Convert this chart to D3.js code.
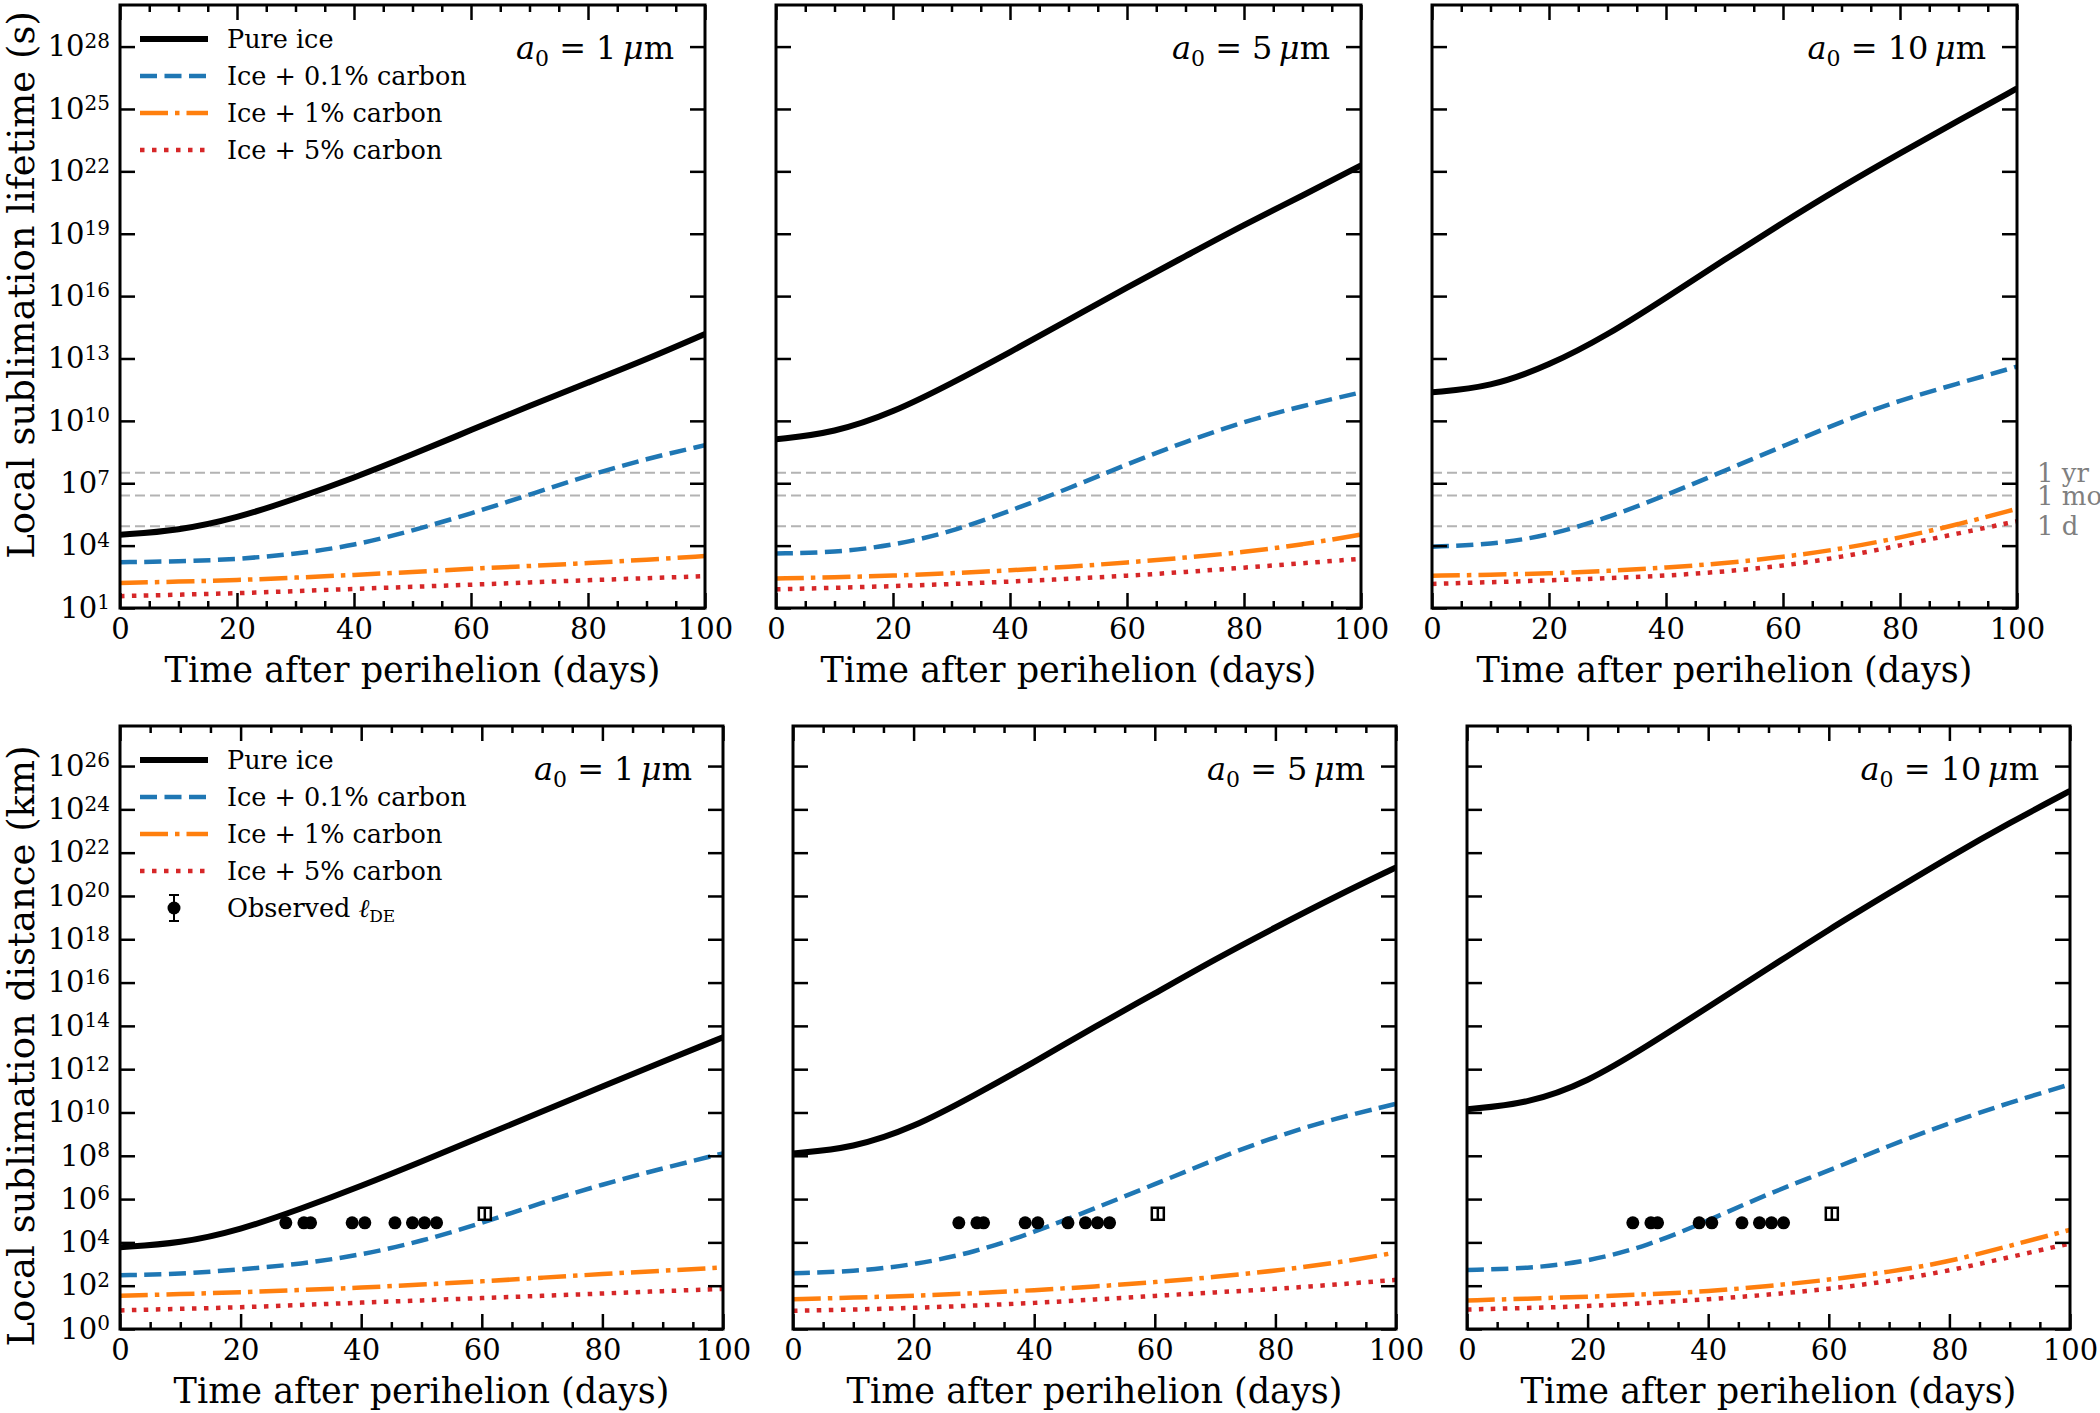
<!DOCTYPE html>
<html>
<head>
<meta charset="utf-8">
<script src="https://cdn.jsdelivr.net/npm/d3@7"></script>
<style>
  body { margin: 0; background: #fff; }
  svg text { font-family: "DejaVu Serif", serif; fill: #000; }
</style>
</head>
<body>
<svg id="fig" width="2100" height="1413"></svg>
<script>
// ---- data ----
const days = [0, 10, 20, 30, 40, 50, 60, 70, 80, 90, 100];
const grainSizes = ["1", "5", "10"];
const seriesNames = ["Pure ice", "Ice + 0.1% carbon", "Ice + 1% carbon", "Ice + 5% carbon"];

// log10 of local sublimation lifetime (s); one list per grain size (1, 5, 10 um)
const lifePureIce = [
  [4.52, 4.72, 5.33, 6.25, 7.26, 8.38, 9.56, 10.72, 11.84, 12.96, 14.18],
  [9.11, 9.43, 10.4, 11.8, 13.3, 14.85, 16.42, 17.92, 19.43, 20.83, 22.29],
  [11.37, 11.62, 12.66, 14.12, 15.92, 17.75, 19.54, 21.26, 22.87, 24.44, 25.99]
];
const lifeCarbon01 = [
  [3.2, 3.24, 3.34, 3.6, 4.0, 4.72, 5.54, 6.45, 7.37, 8.18, 8.83],
  [3.62, 3.67, 4.01, 4.66, 5.67, 6.74, 7.92, 9.0, 9.97, 10.72, 11.37],
  [3.95, 4.05, 4.48, 5.34, 6.42, 7.6, 8.78, 9.97, 11.0, 11.8, 12.61]
];
const lifeCarbon1 = [
  [2.2, 2.27, 2.34, 2.46, 2.59, 2.73, 2.89, 3.02, 3.16, 3.32, 3.5],
  [2.42, 2.48, 2.55, 2.67, 2.81, 2.98, 3.19, 3.42, 3.69, 4.05, 4.53],
  [2.55, 2.6, 2.66, 2.78, 2.94, 3.15, 3.45, 3.84, 4.38, 5.02, 5.77]
];
const lifeCarbon5 = [
  [1.57, 1.64, 1.71, 1.81, 1.92, 2.02, 2.12, 2.23, 2.34, 2.43, 2.53],
  [1.9, 1.97, 2.05, 2.15, 2.27, 2.4, 2.55, 2.73, 2.94, 3.15, 3.37],
  [2.16, 2.24, 2.33, 2.43, 2.55, 2.75, 3.02, 3.45, 4.01, 4.59, 5.17]
];

// log10 of local sublimation distance (km)
const distPureIce = [
  [3.78, 3.95, 4.58, 5.55, 6.6, 7.73, 8.89, 10.04, 11.2, 12.35, 13.47],
  [8.11, 8.36, 9.31, 10.78, 12.33, 13.95, 15.5, 17.08, 18.55, 19.98, 21.32],
  [10.15, 10.4, 11.4, 13.09, 14.87, 16.66, 18.45, 20.13, 21.8, 23.38, 24.85]
];
const distCarbon01 = [
  [2.48, 2.54, 2.75, 3.0, 3.42, 4.05, 4.89, 5.84, 6.68, 7.42, 8.11],
  [2.58, 2.65, 2.96, 3.53, 4.47, 5.57, 6.68, 7.84, 8.89, 9.73, 10.4],
  [2.73, 2.79, 3.11, 3.84, 5.0, 6.26, 7.31, 8.47, 9.52, 10.46, 11.3]
];
const distCarbon1 = [
  [1.53, 1.61, 1.7, 1.8, 1.91, 2.05, 2.2, 2.37, 2.54, 2.69, 2.84],
  [1.37, 1.45, 1.53, 1.65, 1.79, 1.96, 2.16, 2.4, 2.69, 3.05, 3.53],
  [1.32, 1.4, 1.49, 1.6, 1.74, 1.98, 2.27, 2.63, 3.11, 3.84, 4.58]
];
const distCarbon5 = [
  [0.86, 0.93, 1.0, 1.11, 1.22, 1.32, 1.43, 1.53, 1.64, 1.75, 1.85],
  [0.84, 0.9, 0.97, 1.08, 1.2, 1.36, 1.53, 1.69, 1.85, 2.05, 2.27],
  [0.9, 0.97, 1.05, 1.2, 1.37, 1.58, 1.85, 2.2, 2.69, 3.32, 3.95]
];

// observed l_DE (km)
const obsDays = [27.5, 30.5, 31.6, 38.5, 40.6, 45.6, 48.5, 50.5, 52.5];
const obsDistKm = [8e4, 8e4, 8e4, 8e4, 8e4, 8e4, 8e4, 8e4, 8e4];
const obsSquareDay = [60.5];
const obsSquareKm = [2.1e5];

// reference times (s)
const refTimes = [3.156e7, 2.592e6, 8.64e4];
const refLabels = ["1 yr", "1 mo", "1 d"];

const lifeTickExp = [1, 4, 7, 10, 13, 16, 19, 22, 25, 28];
const distTickExp = [0, 2, 4, 6, 8, 10, 12, 14, 16, 18, 20, 22, 24, 26];
const xMajor = [0, 20, 40, 60, 80, 100];
const xMinor = [5, 10, 15, 25, 30, 35, 45, 50, 55, 65, 70, 75, 85, 90, 95];

// ---- styles ----
const styles = [
  { color: "#000000", width: 6, dash: null },
  { color: "#1f77b4", width: 4.5, dash: "17,7.5" },
  { color: "#ff7f0e", width: 4.5, dash: "28,7,4.5,7" },
  { color: "#d62728", width: 4.5, dash: "4.5,7.5" }
];

const rows = [
  {
    top: 5, bottom: 608, lefts: [120, 776, 1432], width: 585,
    series: [lifePureIce, lifeCarbon01, lifeCarbon1, lifeCarbon5],
    domain: [10, 1e30], tickExp: lifeTickExp, ylabelY: 285,
    ylabel: "Local sublimation lifetime (s)", refs: true, obs: false
  },
  {
    top: 726, bottom: 1329, lefts: [120, 793, 1467], width: 603,
    series: [distPureIce, distCarbon01, distCarbon1, distCarbon5],
    domain: [1, Math.pow(10, 27.85)], tickExp: distTickExp, ylabelY: 1046,
    ylabel: "Local sublimation distance (km)", refs: false, obs: true
  }
];

const svg = d3.select("#fig");
const defs = svg.append("defs");
const tickFont = 29;

rows.forEach((row, r) => {
  const h = row.bottom - row.top;
  const w = row.width;
  const x = d3.scaleLinear().domain([0, 100]).range([0, w]);
  const y = d3.scaleLog().domain(row.domain).range([h, 0]);

  row.lefts.forEach((left, p) => {
    const g = svg.append("g").attr("transform", `translate(${left},${row.top})`);
    const clipId = `clip-${r}-${p}`;
    defs.append("clipPath").attr("id", clipId)
      .append("rect").attr("width", w).attr("height", h);
    const plot = g.append("g").attr("clip-path", `url(#${clipId})`);

    // reference lines
    if (row.refs) {
      plot.selectAll(".ref").data(refTimes).join("line")
        .attr("x1", 0).attr("x2", w)
        .attr("y1", d => y(d)).attr("y2", d => y(d))
        .attr("stroke", "#b3b3b3").attr("stroke-width", 2)
        .attr("stroke-dasharray", "10,5");
      if (p === 2) {
        g.selectAll(".reflab").data(refTimes).join("text")
          .attr("x", w + 20).attr("y", d => y(d))
          .attr("dy", "0.35em")
          .attr("font-size", 26).style("fill", "#7f7f7f")
          .text((d, i) => refLabels[i]);
      }
    }

    // model curves
    const line = d3.line()
      .x((d, i) => x(days[i]))
      .y(d => y(Math.pow(10, d)))
      .curve(d3.curveBasis);
    row.series.forEach((s, k) => {
      const st = styles[k];
      plot.append("path")
        .attr("d", line(s[p]))
        .attr("fill", "none")
        .attr("stroke", st.color)
        .attr("stroke-width", st.width)
        .attr("stroke-dasharray", st.dash)
        .attr("stroke-linecap", "butt");
    });

    // observations
    if (row.obs) {
      plot.selectAll(".obs").data(obsDays).join("circle")
        .attr("cx", d => x(d)).attr("cy", (d, i) => y(obsDistKm[i]))
        .attr("r", 6.5).attr("fill", "#000");
      obsSquareDay.forEach((d, i) => {
        const cx = x(d), cy = y(obsSquareKm[i]);
        plot.append("rect")
          .attr("x", cx - 6).attr("y", cy - 6).attr("width", 12).attr("height", 12)
          .attr("fill", "#fff").attr("stroke", "#000").attr("stroke-width", 2.5);
        plot.append("line")
          .attr("x1", cx).attr("x2", cx).attr("y1", cy - 6).attr("y2", cy + 6)
          .attr("stroke", "#000").attr("stroke-width", 2.5);
      });
    }

    // axes (ticks inward on all four sides)
    const yTicks = row.tickExp.map(e => Math.pow(10, e));
    const yl = g.append("g")
      .call(d3.axisLeft(y).tickValues(yTicks).tickSizeInner(-15).tickSizeOuter(0)
        .tickPadding(10).tickFormat(""));
    g.append("g").attr("transform", `translate(${w},0)`)
      .call(d3.axisRight(y).tickValues(yTicks).tickSizeInner(-15).tickSizeOuter(0).tickFormat(""));
    const xb = g.append("g").attr("transform", `translate(0,${h})`)
      .call(d3.axisBottom(x).tickValues(xMajor).tickSizeInner(-15).tickSizeOuter(0).tickPadding(10));
    g.append("g").attr("transform", `translate(0,${h})`)
      .call(d3.axisBottom(x).tickValues(xMinor).tickSizeInner(-7).tickSizeOuter(0).tickFormat(""));
    g.append("g")
      .call(d3.axisTop(x).tickValues(xMajor).tickSizeInner(-15).tickSizeOuter(0).tickFormat(""));
    g.append("g")
      .call(d3.axisTop(x).tickValues(xMinor).tickSizeInner(-7).tickSizeOuter(0).tickFormat(""));

    g.selectAll(".domain").remove();
    g.selectAll(".tick line").attr("stroke", "#000").attr("stroke-width", 2.5);
    xb.selectAll(".tick text").attr("font-size", tickFont).attr("font-family", "DejaVu Serif");

    if (p === 0) {
      yl.selectAll(".tick text").each(function (d) {
        const t = d3.select(this);
        t.attr("font-size", tickFont).attr("font-family", "DejaVu Serif");
        t.append("tspan").text("10");
        t.append("tspan").attr("dy", "-0.42em").attr("font-size", 20)
          .text(Math.round(Math.log10(d)));
      });
      g.append("text")
        .attr("transform", `translate(${34 - left},${row.ylabelY - row.top}) rotate(-90)`)
        .attr("text-anchor", "middle").attr("font-size", 37)
        .text(row.ylabel);
    } else {
      yl.selectAll(".tick text").remove();
    }

    // spines
    g.append("rect").attr("width", w).attr("height", h)
      .attr("fill", "none").attr("stroke", "#000").attr("stroke-width", 3);

    // x label
    g.append("text").attr("x", w / 2).attr("y", h + 74)
      .attr("text-anchor", "middle").attr("font-size", 35)
      .text("Time after perihelion (days)");

    // grain size annotation
    const a = g.append("text").attr("x", w - 31).attr("y", 54)
      .attr("text-anchor", "end").attr("font-size", 32);
    a.append("tspan").attr("font-style", "italic").text("a");
    a.append("tspan").attr("font-size", 22).attr("dy", 7).text("0");
    a.append("tspan").attr("dy", -7).text(" = " + grainSizes[p] + "\u2009");
    a.append("tspan").attr("font-style", "italic").text("\u03bc");
    a.append("tspan").text("m");

    // legend
    if (p === 0) {
      const lg = g.append("g").attr("transform", "translate(20,34)");
      seriesNames.forEach((name, k) => {
        const st = styles[k];
        const yy = k * 37;
        lg.append("line").attr("x1", 0).attr("x2", 68).attr("y1", yy).attr("y2", yy)
          .attr("stroke", st.color).attr("stroke-width", st.width)
          .attr("stroke-dasharray", st.dash);
        lg.append("text").attr("x", 87).attr("y", yy).attr("dy", "0.35em")
          .attr("font-size", 25.5).text(name);
      });
      if (row.obs) {
        const yy = 4 * 37;
        lg.append("line").attr("x1", 34).attr("x2", 34).attr("y1", yy - 13).attr("y2", yy + 13)
          .attr("stroke", "#000").attr("stroke-width", 2);
        [yy - 13, yy + 13].forEach(c => lg.append("line")
          .attr("x1", 29).attr("x2", 39).attr("y1", c).attr("y2", c)
          .attr("stroke", "#000").attr("stroke-width", 2));
        lg.append("circle").attr("cx", 34).attr("cy", yy).attr("r", 6.5).attr("fill", "#000");
        const ot = lg.append("text").attr("x", 87).attr("y", yy).attr("dy", "0.35em")
          .attr("font-size", 25.5);
        ot.append("tspan").text("Observed ");
        ot.append("tspan").attr("font-style", "italic").text("\u2113");
        ot.append("tspan").attr("font-size", 17).attr("dy", 5).text("DE");
      }
    }
  });
});
</script>
</body>
</html>
